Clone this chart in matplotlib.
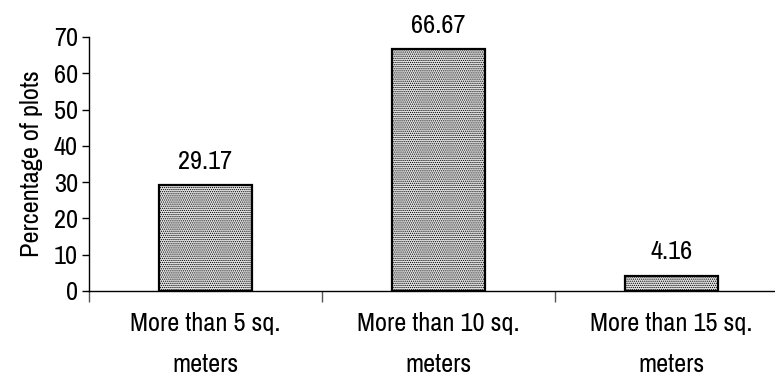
import matplotlib
matplotlib.use("Agg")
import matplotlib.pyplot as plt
from matplotlib.ticker import FixedLocator

categories = ["More than 5 sq.\nmeters", "More than 10 sq.\nmeters", "More than 15 sq.\nmeters"]
values = [29.17, 66.67, 4.16]
labels = ["29.17", "66.67", "4.16"]
yticks = [0, 10, 20, 30, 40, 50, 60, 70]

plt.rcParams['font.family'] = ['Archivo Narrow', 'Liberation Sans', 'DejaVu Sans']
plt.rcParams['hatch.color'] = '#8a8a8a'
plt.rcParams['hatch.linewidth'] = 0.6

FS = 19
fig = plt.figure(figsize=(7.75, 3.79), dpi=100)
ax = fig.add_axes([89/775, 1-291/379, 699/775, (291-37)/379])

x = list(range(len(values)))
ax.bar(x, values, width=0.40, color='#e4e4e4', edgecolor='black', linewidth=1.6, hatch='........')
for xi, v, t in zip(x, values, labels):
    ax.annotate(t, (xi, v), xytext=(0, 9), textcoords='offset points', ha='center', va='bottom', fontsize=FS)

ax.set_xlim(-0.5, 2.5)
ax.set_ylim(0, 70)
ax.set_yticks(yticks)
ax.set_xticks(x)
ax.set_xticklabels(categories, fontsize=FS, linespacing=1.95)
ax.tick_params(axis='x', which='major', length=0, pad=15)
ax.xaxis.set_minor_locator(FixedLocator([-0.5, 0.5, 1.5, 2.5]))
ax.tick_params(axis='x', which='minor', length=8, width=1, color='#555555', direction='out')
ax.tick_params(axis='y', length=5, width=1, labelsize=FS, pad=3)
for s in ['top', 'right']:
    ax.spines[s].set_visible(False)
ax.spines['left'].set_linewidth(1)
ax.spines['bottom'].set_linewidth(1)
ax.set_ylabel("Percentage of plots", fontsize=FS, labelpad=8)

fig.savefig("out.png", dpi=100)
